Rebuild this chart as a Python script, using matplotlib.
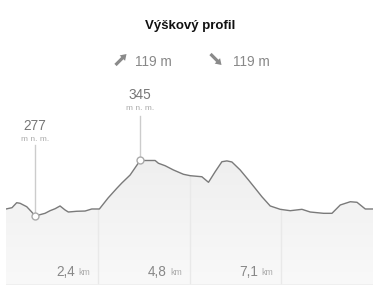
import numpy as np
import matplotlib
matplotlib.use("Agg")
import matplotlib.pyplot as plt
from matplotlib.colors import LinearSegmentedColormap
from matplotlib.patches import FancyArrowPatch

plt.rcParams['font.family'] = ['Liberation Sans', 'DejaVu Sans']

# elevation profile (km, m n. m.)
dist_km = [0.00, 0.155, 0.276, 0.362, 0.535, 0.664, 0.749, 1.007, 1.137, 1.266,
           1.395, 1.524, 1.609, 1.826, 2.041, 2.214, 2.410, 2.635, 2.859, 2.989,
           3.203, 3.461, 3.590, 3.849, 3.934, 4.107, 4.321, 4.580, 4.753, 5.055,
           5.226, 5.399, 5.572, 5.701, 5.830, 6.044, 6.259, 6.432, 6.605, 6.819,
           7.077, 7.336, 7.638, 7.852, 8.196, 8.413, 8.627, 8.886, 9.059, 9.273,
           9.472]
elev_m = [285.6, 287.2, 293.3, 292.6, 288.4, 281.9, 277.0, 280.3, 283.5, 285.9,
          289.3, 284.4, 281.9, 282.8, 283.1, 285.6, 285.6, 299.1, 310.9, 317.4,
          327.2, 345.0, 345.0, 345.0, 341.6, 338.6, 333.4, 328.1, 326.4, 325.1,
          318.3, 331.3, 343.5, 344.5, 343.2, 333.4, 321.1, 310.9, 300.6, 289.3,
          285.2, 283.5, 285.2, 281.9, 280.3, 280.3, 290.5, 294.5, 293.8, 285.6,
          285.6]

tick_km = [2.37, 4.74, 7.11]
tick_labels = ["2,4", "4,8", "7,1"]
ascent = "119 m"
descent = "119 m"

x = np.array(dist_km)
y = np.array(elev_m)
i_min = int(np.argmin(y))
i_max = int(np.argmax(y))

W, H = 380, 293
fig = plt.figure(figsize=(W / 100, H / 100), dpi=100)
ax = fig.add_axes([6 / W, 8 / H, 367 / W, 145 / H])
ymin, ymax = 192.5, 370.1
ax.set_xlim(x[0], x[-1])
ax.set_ylim(ymin, ymax)
ax.axis('off')


def px2m(py):
    # pixel row of the picture -> elevation on this axis
    return 277 + (216 - py) * 1.225


# light gradient fill under the profile
cmap = LinearSegmentedColormap.from_list('g', ['#f9f9f9', '#efefef'])
grad = np.linspace(0, 1, 256).reshape(-1, 1)
img = ax.imshow(grad, cmap=cmap, aspect='auto', origin='lower',
                extent=[x[0], x[-1], ymin, y.max()], zorder=1)
poly = ax.fill_between(x, y, ymin, color='none', lw=0)
img.set_clip_path(poly.get_paths()[0], transform=ax.transData)

for t in tick_km:
    ax.plot([t, t], [ymin, np.interp(t, x, y)], color='#e9e9e9', lw=1, zorder=2)
ax.plot([x[0], x[-1]], [ymin + 0.6, ymin + 0.6], color='#eeeeee', lw=1.2, zorder=2)

ax.plot(x, y, color='#7a7a7a', lw=1.0, zorder=3)

# min / max markers with connectors
for i, top in ((i_max, 116.5), (i_min, 145)):
    ax.plot([x[i], x[i]], [y[i], px2m(top)], color='#cccccc', lw=1, zorder=2,
            clip_on=False)
    ax.plot(x[i], y[i], 'o', ms=5, mfc='white', mec='#aaaaaa', mew=1,
            zorder=4, clip_on=False)


def label_at(i, ytext):
    ax.text(x[i], px2m(ytext), f"{y[i]:.0f}", ha='center', va='center',
            fontsize=9.8, color='#777777', clip_on=False)
    ax.text(x[i], px2m(ytext + 13.5), "m n. m.", ha='center', va='center',
            fontsize=6.0, color='#aaaaaa', clip_on=False)


label_at(i_max, 95)
label_at(i_min, 126)

# distance labels
for t, lab in zip(tick_km, tick_labels):
    yv = px2m(272)
    ax.annotate("km", (t, yv), xytext=(-8, 0), textcoords='offset pixels',
                ha='right', va='center', fontsize=6.3, color='#aaaaaa')
    ax.annotate(lab, (t, yv), xytext=(-23, 0), textcoords='offset pixels',
                ha='right', va='center', fontsize=9.8, color='#888888')

# header
fig.text(190 / W, 1 - 26 / H, "Výškový profil", ha='center', va='center',
         fontsize=9.5, fontweight='bold', color='#111111')

arrow_style = 'simple,head_length=4.2,head_width=5.5,tail_width=2.3'
up = FancyArrowPatch((115.5 / W, 1 - 65 / H), (126.5 / W, 1 - 54 / H),
                     transform=fig.transFigure, arrowstyle=arrow_style,
                     mutation_scale=1, color='#8a8a8a', lw=0,
                     shrinkA=0, shrinkB=0)
down = FancyArrowPatch((210.5 / W, 1 - 54 / H), (221.5 / W, 1 - 65 / H),
                       transform=fig.transFigure, arrowstyle=arrow_style,
                       mutation_scale=1, color='#8a8a8a', lw=0,
                       shrinkA=0, shrinkB=0)
fig.patches.extend([up, down])

fig.text(135 / W, 1 - 62 / H, ascent, ha='left', va='center', fontsize=9.8,
         color='#888888')
fig.text(233 / W, 1 - 62 / H, descent, ha='left', va='center', fontsize=9.8,
         color='#888888')

fig.savefig("out.png", dpi=100)
